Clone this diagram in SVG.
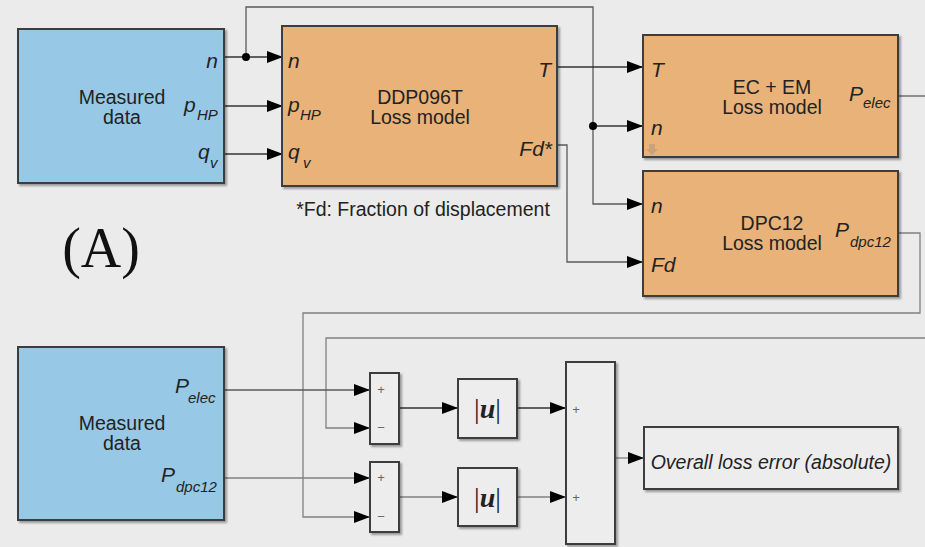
<svg xmlns="http://www.w3.org/2000/svg" width="925" height="547" viewBox="0 0 925 547">
  <style>
    .bg { fill: #ebebeb; }
    .blk { stroke: #3c3c3c; stroke-width: 2; filter: url(#shadow); }
    .data { fill: #97c9e7; }
    .model { fill: #e8b279; }
    .op { fill: #ededed; }
    .sans { font-family: "Liberation Sans", Arial, sans-serif; fill: #222; }
    .title { font-size: 19.5px; text-anchor: middle; }
    .port { font-size: 21px; font-style: italic; }
    .sub { font-size: 15px; font-style: italic; }
    .sign { font-family: "Liberation Sans", Arial, sans-serif; font-size: 13px; fill: #666; text-anchor: middle; }
    .absu { font-family: "Liberation Serif", "Times New Roman", serif; font-size: 28px; text-anchor: middle; fill: #222; }
    .wire { fill: none; stroke: #333; stroke-width: 1.3; }
    .wire.light { stroke: #808080; }
    .wire.mid { stroke: #5a5a5a; }
    .arr { marker-end: url(#head); }
  </style>
  <defs>
    <filter id="shadow" x="-10%" y="-10%" width="130%" height="130%">
      <feDropShadow dx="2" dy="2" stdDeviation="1.2" flood-color="#000" flood-opacity="0.35"/>
    </filter>
    <marker id="head" markerUnits="userSpaceOnUse" markerWidth="16" markerHeight="12" refX="16" refY="6" orient="auto">
      <path d="M0,0 L16,6 L0,12 z" fill="#000"/>
    </marker>
  </defs>

  <rect class="bg" x="0" y="0" width="925" height="547"/>

  <!-- connectors -->
  <g id="connectors">
    <path class="wire arr" d="M224,57 H283"/>
    <path class="wire mid arr" d="M246,57 V7 H593 V204 H643"/>
    <path class="wire arr" d="M224,106 H283"/>
    <path class="wire arr" d="M224,154 H283"/>
    <path class="wire arr" d="M557,67 H643"/>
    <path class="wire arr" d="M593,126 H643"/>
    <path class="wire mid arr" d="M557,145 H567 V262 H643"/>
    <path class="wire mid" d="M898,96 H925"/>
    <path class="wire light arr" d="M898,233 H920 V313 H303 V517 H370"/>
    <path class="wire light arr" d="M925,338 H326 V428 H370"/>
    <path class="wire mid arr" d="M224,390 H370"/>
    <path class="wire light arr" d="M224,478 H370"/>
    <path class="wire arr" d="M399,408 H458"/>
    <path class="wire light arr" d="M399,497 H458"/>
    <path class="wire arr" d="M517,408 H566"/>
    <path class="wire light arr" d="M517,497 H566"/>
    <path class="wire light arr" d="M615,458 H644"/>
    <circle cx="246" cy="57" r="4" fill="#000"/>
    <circle cx="593" cy="126" r="4" fill="#000"/>
  </g>

  <!-- measured data (top) -->
  <g id="measured1">
    <rect class="blk data" x="18" y="29" width="206" height="154"/>
    <text class="sans title" x="122" y="104">Measured</text>
    <text class="sans title" x="122" y="124">data</text>
    <text class="sans port" x="218" y="68" text-anchor="end">n</text>
    <text class="sans port" x="184" y="112">p</text>
    <text class="sans sub" x="197" y="120">HP</text>
    <text class="sans port" x="198" y="159">q</text>
    <text class="sans sub" x="210" y="168">v</text>
  </g>

  <!-- DDP096T loss model -->
  <g id="ddp096t">
    <rect class="blk model" x="282" y="26" width="275" height="160"/>
    <text class="sans title" x="420" y="104">DDP096T</text>
    <text class="sans title" x="420" y="124">Loss model</text>
    <text class="sans port" x="288" y="68">n</text>
    <text class="sans port" x="288" y="112">p</text>
    <text class="sans sub" x="300" y="120">HP</text>
    <text class="sans port" x="288" y="159">q</text>
    <text class="sans sub" x="303" y="168">v</text>
    <text class="sans port" x="551" y="77" text-anchor="end">T</text>
    <text class="sans port" x="552" y="156" text-anchor="end">Fd*</text>
  </g>
  <text class="sans" x="423" y="216" font-size="19.5" text-anchor="middle">*Fd: Fraction of displacement</text>

  <!-- EC + EM loss model -->
  <g id="ecem">
    <rect class="blk model" x="643" y="35" width="255" height="122"/>
    <text class="sans title" x="772" y="94">EC + EM</text>
    <text class="sans title" x="772" y="114">Loss model</text>
    <text class="sans port" x="651" y="77">T</text>
    <text class="sans port" x="651" y="135">n</text>
    <text class="sans port" x="849" y="101">P</text>
    <text class="sans sub" x="863" y="108">elec</text>
    <path d="M649,144 h6 v5 h3 l-6,6 l-6,-6 h3 z" fill="#c7a27b"/>
  </g>

  <!-- DPC12 loss model -->
  <g id="dpc12">
    <rect class="blk model" x="643" y="171" width="255" height="125"/>
    <text class="sans title" x="772" y="230">DPC12</text>
    <text class="sans title" x="772" y="250">Loss model</text>
    <text class="sans port" x="651" y="213">n</text>
    <text class="sans port" x="651" y="272">Fd</text>
    <text class="sans port" x="835" y="237">P</text>
    <text class="sans sub" x="850" y="247">dpc12</text>
  </g>

  <text x="101" y="267" font-family="Liberation Serif, 'Times New Roman', serif" font-size="56" text-anchor="middle" fill="#111">(A)</text>

  <!-- measured data (bottom) -->
  <g id="measured2">
    <rect class="blk data" x="18" y="347" width="206" height="173"/>
    <text class="sans title" x="122" y="430">Measured</text>
    <text class="sans title" x="122" y="450">data</text>
    <text class="sans port" x="175" y="393">P</text>
    <text class="sans sub" x="188" y="403">elec</text>
    <text class="sans port" x="161" y="482">P</text>
    <text class="sans sub" x="176" y="492">dpc12</text>
  </g>

  <!-- difference blocks -->
  <g id="sum1">
    <rect class="blk op" x="370" y="373" width="29" height="71"/>
    <text class="sign" x="381" y="394">+</text>
    <text class="sign" x="381" y="432">−</text>
  </g>
  <g id="sum2">
    <rect class="blk op" x="370" y="462" width="29" height="70"/>
    <text class="sign" x="381" y="482">+</text>
    <text class="sign" x="381" y="521">−</text>
  </g>

  <!-- absolute value blocks -->
  <g id="abs1">
    <rect class="blk op" x="458" y="379" width="59" height="59"/>
    <text class="absu" x="487.5" y="418">|<tspan font-weight="bold" font-style="italic">u</tspan>|</text>
  </g>
  <g id="abs2">
    <rect class="blk op" x="458" y="468" width="59" height="58"/>
    <text class="absu" x="487.5" y="507">|<tspan font-weight="bold" font-style="italic">u</tspan>|</text>
  </g>

  <!-- summation -->
  <g id="sum3">
    <rect class="blk op" x="566" y="362" width="49" height="182"/>
    <text class="sign" x="576" y="414">+</text>
    <text class="sign" x="576" y="502">+</text>
  </g>

  <!-- output -->
  <g id="overall">
    <rect class="blk op" x="644" y="427" width="254" height="62"/>
    <text class="sans" x="771" y="469" font-size="19.5" font-style="italic" text-anchor="middle">Overall loss error (absolute)</text>
  </g>
</svg>
